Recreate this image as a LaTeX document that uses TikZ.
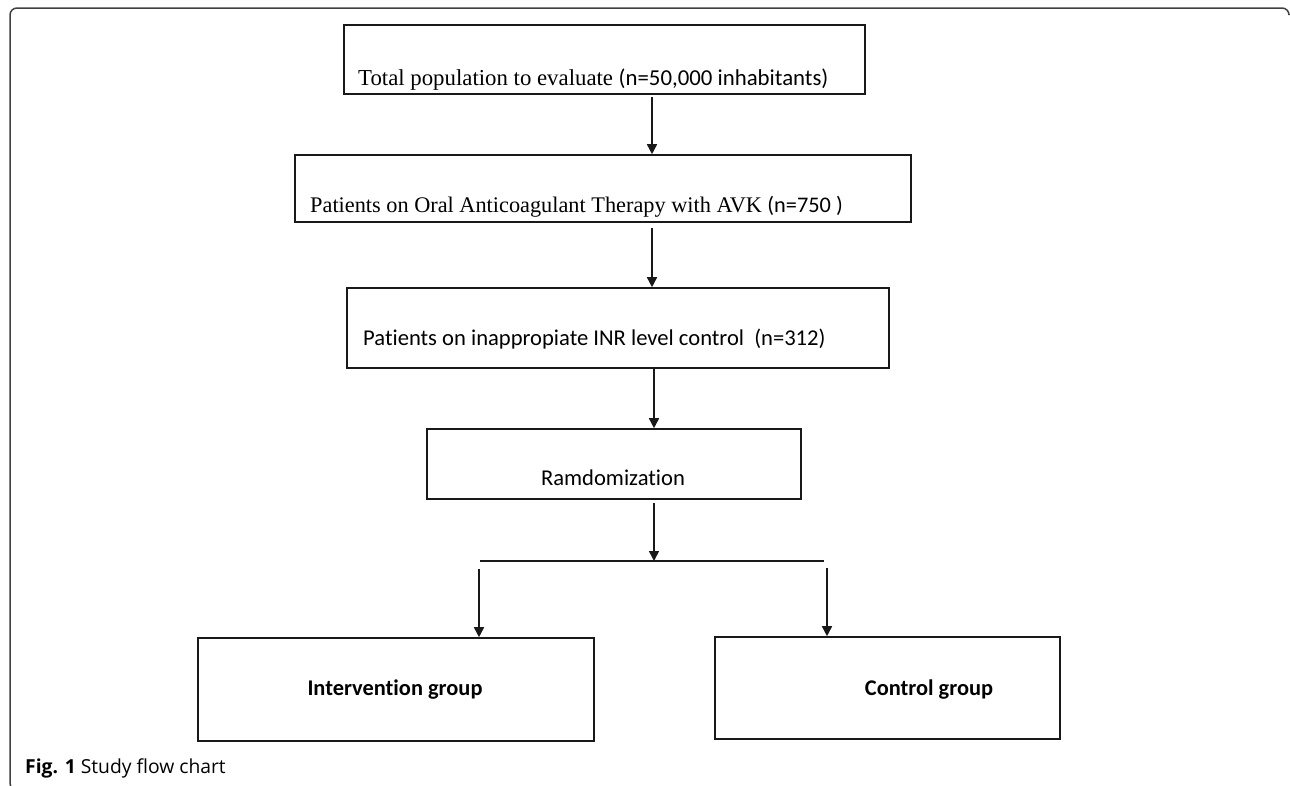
\documentclass[tikz,border=0pt]{standalone}
\usepackage{fontspec}
\setmainfont{Liberation Serif}
\newfontfamily\calfont[Ligatures=NoCommon]{Carlito}
\newfontfamily\capfont{Open Sans}
\usetikzlibrary{arrows.meta}
\tikzset{
  box/.style={draw=black!90, line width=1.6pt, inner sep=0pt, rectangle},
  arr/.style={draw=black!90, line width=1.6pt, -{Triangle[length=10pt,width=10pt]}},
  plain/.style={draw=black!90, line width=1.6pt},
  frame/.style={draw=black!75, line width=1.5pt, rounded corners=7pt},
  ser/.style={font=\fontsize{22.8}{26}\selectfont, inner sep=0pt},
  sans/.style={font=\calfont\fontsize{22.6}{26}\selectfont, inner sep=0pt},
  sansb/.style={font=\calfont\bfseries\fontsize{22.4}{26}\selectfont, inner sep=0pt}
}
\begin{document}
\begin{tikzpicture}[x=1pt,y=-1pt]
\useasboundingbox (0,0) rectangle (1290,785);
% frame
\draw[frame] (1289,14) -- (1289,8) -- (10,8) -- (10,790) -- (40,790);
% boxes
\node[box, minimum width=521pt, minimum height=69pt] (b1) at (604.5,59.5) {};
\node[box, minimum width=616pt, minimum height=67pt] (b2) at (603,188.5) {};
\node[box, minimum width=542pt, minimum height=80pt] (b3) at (618,328) {};
\node[box, minimum width=374pt, minimum height=70pt] (b4) at (614,464) {};
\node[box, minimum width=396pt, minimum height=103pt] (b5) at (396,689.5) {};
\node[box, minimum width=345pt, minimum height=102pt] (b6) at (887.5,688) {};
% texts
\node[ser, anchor=base west] (t1) at (358,85) {Total population to evaluate {\calfont (n=50,000 inhabitants)}};
\node[ser, anchor=base west, font=\fontsize{22.3}{26}\selectfont] (t2) at (310,212) {Patients on Oral Anticoagulant Therapy with AVK {\calfont (n=750 )}};
\node[sans, anchor=base west] (t3) at (363,345) {Patients on inappropiate INR level control\ \ (n=312)};
\node[sans, anchor=base] (t4) at (613,485) {Ramdomization};
\node[sansb, anchor=base] (t5) at (395,695) {Intervention group};
\node[sansb, anchor=base] (t6) at (929,695) {Control group};
% caption
\node[font=\capfont\fontsize{19.3}{22}\selectfont, anchor=base west, inner sep=0pt] (cap) at (25,773) {\textbf{Fig. 1} Study flow chart};
% connectors
\coordinate (x1) at (652,0);
\coordinate (x3) at (654,0);
\coordinate (jl) at (480,561);
\coordinate (jr) at (824,561);
\coordinate (s5) at (479,569);
\coordinate (s6) at (827,568);
\draw[arr] ([yshift=-2pt]b1.south -| x1) -- (b2.north -| x1);
\draw[arr] ([yshift=-5pt]b2.south -| x1) -- (b3.north -| x1);
\draw[arr] (b3.south -| x3) -- (b4.north -| x3);
\draw[arr] ([yshift=-3pt]b4.south -| x3) -- (jl -| x3);
\draw[plain] (jl) -- (jr);
\draw[arr] (s5) -- (b5.north -| s5);
\draw[arr] (s6) -- (b6.north -| s6);
\end{tikzpicture}
\end{document}
